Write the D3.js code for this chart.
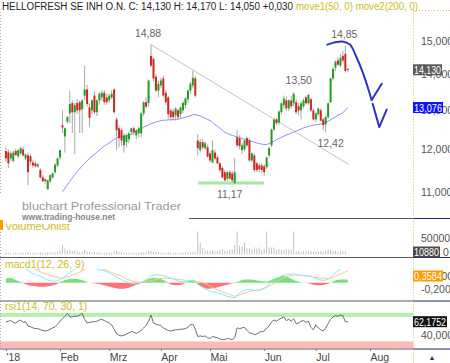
<!DOCTYPE html>
<html>
<head>
<meta charset="utf-8">
<script src="https://cdn.jsdelivr.net/npm/d3@7"></script>
<style>
body { margin: 0; background: #fff; }
svg { display: block; }
text { font-family: "Liberation Sans", Arial, sans-serif; }
</style>
</head>
<body>
<svg id="chart" width="450" height="363"></svg>
<script>
// ---- data ----
var titleText = "HELLOFRESH SE  INH O.N. C: 14,130 H: 14,170 L: 14,050 +0,030";
var studyText = "move1(50, 0) move2(200, 0)";
var monthLabels = ["'18", "Feb", "Mrz", "Apr", "Mai", "Jun", "Jul", "Aug"];
var holidays = ["2018-01-01", "2018-03-30", "2018-04-02", "2018-05-01"];
var priceTicks = [11, 12, 13, 14, 15];
var volTicks = [0, 500000];
var macdTicks = [-0.2, 0.2];
var rsiTicks = [40];

// [open, high, low, close]
var candles = [
[11.96,12.05,11.70,11.78],[11.93,12.00,11.55,11.66],[11.78,11.95,11.72,11.90],[11.72,11.98,11.68,11.92],[11.96,12.02,11.84,11.86],
[11.83,12.00,11.78,11.98],[11.90,12.08,11.85,12.03],[12.00,12.06,11.82,11.85],[11.78,11.90,11.74,11.87],[11.85,11.92,11.15,11.45],
[11.83,11.88,11.62,11.70],[11.68,11.75,11.55,11.61],[11.66,11.72,11.56,11.59],[11.59,11.67,11.55,11.63],[11.50,11.55,11.30,11.33],
[11.33,11.38,11.22,11.24],[11.28,11.32,11.18,11.24],[11.06,11.28,11.04,11.26],[11.24,11.40,11.20,11.38],[11.33,11.45,11.28,11.42],
[11.45,11.66,11.40,11.63],[11.61,11.80,11.57,11.78],[11.80,12.00,11.75,11.98],[12.61,13.00,12.41,12.55],[12.32,12.55,11.92,12.53],
[12.70,12.85,12.65,12.82],[12.92,13.54,12.67,13.17],[13.20,13.27,12.41,12.95],[12.95,13.20,11.89,13.14],[13.20,13.30,12.90,13.00],
[13.22,13.27,12.41,13.00],[13.03,13.30,12.41,13.27],[13.40,14.25,13.27,13.57],[13.57,13.70,13.10,13.17],[13.08,13.20,12.57,12.80],
[13.00,13.30,12.90,13.27],[13.40,13.50,12.90,12.95],[12.95,13.30,12.85,13.27],[13.27,13.50,13.15,13.45],[13.35,13.55,13.25,13.48],
[13.48,13.55,13.15,13.22],[13.35,13.45,13.15,13.22],[13.27,13.45,13.20,13.40],[13.35,13.55,13.30,13.45],[13.57,13.62,12.92,12.95],
[12.76,12.82,11.98,12.48],[12.53,12.60,12.05,12.28],[12.48,12.55,12.10,12.22],[12.10,12.40,11.92,12.35],[12.18,12.40,12.05,12.35],
[12.25,12.45,12.15,12.40],[12.43,12.55,12.35,12.53],[12.53,12.58,12.35,12.43],[12.35,12.50,12.25,12.48],[12.40,12.58,12.30,12.53],
[12.40,12.95,12.30,12.92],[12.92,13.25,12.85,13.22],[13.22,13.35,13.05,13.10],[13.20,13.85,13.10,13.82],[14.54,14.88,14.20,14.25],
[14.45,14.50,13.80,13.88],[13.93,14.00,13.50,13.54],[13.54,13.82,13.35,13.73],[13.68,13.90,13.60,13.82],[13.88,13.95,13.35,13.40],
[13.48,13.55,13.15,13.22],[13.35,13.40,12.76,12.90],[13.00,13.05,12.73,12.82],[12.97,13.05,12.73,12.82],[12.87,13.08,12.73,13.05],
[13.00,13.05,12.76,12.82],[12.90,13.10,12.80,13.08],[13.00,13.25,12.92,13.20],[13.14,13.35,13.05,13.32],[13.30,13.57,13.20,13.54],
[13.54,13.78,13.45,13.73],[13.68,14.10,13.60,13.90],[13.88,13.95,13.35,13.40],[12.22,12.38,11.85,12.03],[11.98,12.25,11.92,12.18],
[12.18,12.25,12.00,12.05],[12.03,12.20,11.98,12.15],[12.05,12.12,11.80,11.82],[11.90,11.95,11.68,11.73],[11.68,12.22,11.66,11.98],
[11.92,12.00,11.75,11.78],[11.80,11.85,11.64,11.66],[11.66,11.70,11.45,11.50],[11.55,11.60,11.30,11.33],[11.45,11.50,11.24,11.26],
[11.30,11.48,11.24,11.45],[11.45,11.50,11.28,11.30],[11.42,11.48,11.22,11.26],[11.20,11.78,11.17,11.45],[12.30,12.48,12.05,12.10],
[12.28,12.35,12.00,12.08],[11.98,12.15,11.88,12.10],[12.00,12.25,11.95,12.22],[12.28,12.32,12.05,12.10],[12.22,12.28,11.70,11.73],
[11.73,11.92,11.68,11.90],[11.85,11.90,11.45,11.50],[11.66,11.70,11.45,11.50],[11.61,11.66,11.45,11.52],[11.61,11.66,11.42,11.50],
[11.59,11.64,11.36,11.45],[11.57,11.82,11.52,11.80],[11.85,12.06,11.80,12.03],[12.10,12.52,12.05,12.50],[12.50,12.78,12.45,12.76],
[12.76,12.80,12.62,12.66],[12.68,13.00,12.62,12.97],[12.95,13.22,12.90,13.19],[13.14,13.40,13.05,13.32],[13.27,13.38,12.98,13.05],
[13.05,13.30,12.98,13.27],[13.27,13.40,13.05,13.11],[13.19,13.50,13.10,13.45],[13.22,13.30,12.90,12.95],[13.11,13.20,12.87,13.00],
[13.00,13.25,12.76,13.19],[13.11,13.32,13.05,13.27],[13.35,13.40,13.15,13.19],[13.19,13.45,13.15,13.42],[13.30,13.35,12.95,13.00],
[13.00,13.05,12.73,12.76],[12.76,12.95,12.70,12.92],[12.90,13.08,12.85,13.05],[13.00,13.05,12.70,12.73],[12.76,12.80,12.48,12.61],
[12.63,12.90,12.42,12.82],[12.82,13.22,12.78,13.19],[13.22,13.90,13.20,13.88],[13.88,14.20,13.82,14.16],[14.19,14.40,14.10,14.37],
[14.40,14.50,14.25,14.28],[14.25,14.60,14.20,14.48],[14.54,14.69,14.35,14.40],[14.60,14.85,14.05,14.10],[14.16,14.17,14.05,14.13]
];

var volumes = [
70000,60000,45000,40000,50000,35000,40000,55000,45000,90000,60000,50000,45000,40000,70000,55000,50000,80000,60000,55000,70000,90000,
130000,300000,180000,120000,150000,110000,130000,80000,70000,90000,140000,110000,90000,70000,80000,60000,70000,50000,60000,55000,
60000,50000,90000,110000,80000,70000,60000,55000,50000,45000,50000,45000,50000,80000,70000,60000,100000,110000,90000,80000,60000,
55000,60000,50000,70000,55000,45000,50000,45000,50000,55000,60000,70000,80000,90000,80000,
720000,380000,200000,120000,130000,110000,130000,100000,120000,140000,170000,110000,130000,150000,160000,
300000,720000,280000,240000,375000,180000,200000,150000,220000,190000,220000,140000,180000,720000,
220000,210000,220000,150000,170000,140000,130000,170000,140000,150000,720000,
100000,110000,90000,100000,110000,95000,100000,80000,90000,95000,110000,95000,120000,150000,160000,110000,120000,95000,90000,100000,90000,10880
];

// 50-day average, first value belongs to candle 23
var ma50Start = 23;
var ma50 = [
11.00,11.08,11.16,11.24,11.31,11.39,11.46,11.53,11.60,11.66,
11.72,11.78,11.83,11.88,11.93,11.98,12.03,12.08,12.12,12.16,
12.20,12.24,12.28,12.30,12.31,12.32,12.34,12.35,12.38,12.41,
12.45,12.49,12.52,12.56,12.59,12.62,12.65,12.67,12.69,12.71,
12.73,12.74,12.74,12.75,12.75,12.76,12.76,12.77,12.78,12.80,
12.82,12.84,12.86,12.88,12.89,12.87,12.85,12.82,12.79,12.76,
12.73,12.68,12.63,12.58,12.53,12.48,12.43,12.40,12.37,12.35,
12.33,12.31,12.29,12.27,12.25,12.23,12.22,12.20,12.18,12.16,
12.14,12.13,12.12,12.12,12.14,12.17,12.20,12.24,12.27,12.30,
12.33,12.36,12.38,12.41,12.43,12.46,12.48,12.51,12.54,12.56,
12.58,12.60,12.61,12.62,12.63,12.64,12.66,12.68,12.71,12.75,
12.79,12.83,12.87,12.90,12.94,13.00,13.076
];

var macdLine = [
0.62,0.60,0.58,0.56,0.54,0.53,0.51,0.48,0.43,0.36,
0.32,0.28,0.25,0.22,0.19,0.16,0.12,0.08,0.06,0.05,
0.05,0.06,0.09,0.15,0.20,0.25,0.30,0.36,0.40,0.44,
0.52,0.56,0.58,0.58,0.56,0.52,0.46,0.41,0.39,0.37,
0.35,0.33,0.30,0.26,0.22,0.17,0.13,0.09,0.06,0.03,
0.00,-0.02,-0.03,-0.04,-0.04,0.00,0.05,0.10,0.15,0.21,
0.23,0.24,0.24,0.23,0.22,0.20,0.17,0.14,0.11,0.08,
0.05,0.04,0.03,0.04,0.05,0.07,0.08,0.05,-0.05,-0.10,
-0.14,-0.18,-0.22,-0.26,-0.28,-0.29,-0.31,-0.33,-0.36,-0.39,
-0.41,-0.43,-0.45,-0.46,-0.38,-0.30,-0.26,-0.23,-0.21,-0.20,
-0.21,-0.23,-0.24,-0.23,-0.21,-0.18,-0.12,-0.04,0.03,0.08,
0.12,0.16,0.20,0.23,0.24,0.25,0.26,0.27,0.26,0.24,
0.23,0.22,0.21,0.21,0.20,0.16,0.13,0.10,0.08,0.07,
0.08,0.10,0.16,0.23,0.30,0.36,0.42,0.48,0.52,0.53
];

var signalLine = [
0.70,0.68,0.66,0.64,0.62,0.60,0.58,0.56,0.53,0.50,
0.47,0.44,0.40,0.36,0.33,0.30,0.27,0.25,0.23,0.20,
0.18,0.16,0.14,0.14,0.15,0.17,0.20,0.23,0.26,0.29,
0.32,0.36,0.40,0.44,0.47,0.49,0.50,0.49,0.47,0.42,
0.40,0.37,0.34,0.31,0.28,0.25,0.23,0.20,0.16,0.12,
0.08,0.06,0.04,0.03,0.02,0.02,0.03,0.04,0.05,0.07,
0.08,0.10,0.12,0.13,0.14,0.14,0.13,0.13,0.12,0.11,
0.10,0.09,0.08,0.07,0.07,0.06,0.06,0.05,0.04,0.02,
0.00,-0.03,-0.06,-0.10,-0.14,-0.18,-0.22,-0.25,-0.28,-0.31,
-0.33,-0.36,-0.39,-0.41,-0.40,-0.37,-0.34,-0.31,-0.29,-0.27,
-0.25,-0.24,-0.23,-0.21,-0.19,-0.16,-0.13,-0.10,-0.06,-0.02,
0.03,0.07,0.12,0.15,0.18,0.20,0.22,0.23,0.23,0.22,
0.22,0.21,0.20,0.19,0.18,0.17,0.16,0.15,0.14,0.14,
0.13,0.13,0.14,0.17,0.20,0.23,0.26,0.29,0.33,0.3584
];

var macdHist = [
0.12,0.14,0.15,0.12,0.08,0.05,0.02,-0.02,-0.05,-0.07,
-0.09,-0.10,-0.11,-0.12,-0.12,-0.12,-0.12,-0.11,-0.10,-0.08,
-0.06,-0.03,0.02,0.05,0.08,0.10,0.11,0.12,0.12,0.11,
0.10,0.08,0.05,0.02,0.00,-0.01,-0.02,-0.03,-0.04,-0.06,
-0.08,-0.10,-0.12,-0.14,-0.16,-0.17,-0.18,-0.18,-0.18,-0.17,
-0.15,-0.12,-0.09,-0.06,-0.03,0.00,0.04,0.08,0.11,0.14,
0.15,0.14,0.13,0.11,0.08,0.04,-0.02,-0.05,-0.07,-0.08,
-0.08,-0.07,-0.04,-0.01,0.03,0.06,0.07,0.03,-0.04,-0.09,
-0.14,-0.17,-0.18,-0.18,-0.17,-0.16,-0.14,-0.12,-0.10,-0.08,
-0.06,-0.04,-0.02,-0.01,0.02,0.05,0.08,0.09,0.10,0.10,
0.09,0.08,0.07,0.06,0.05,0.04,0.03,0.05,0.09,0.13,
0.16,0.18,0.20,0.20,0.19,0.16,0.12,0.08,0.05,0.03,
0.01,0.00,-0.01,-0.02,-0.04,-0.06,-0.07,-0.08,-0.08,-0.07,
-0.05,-0.03,0.00,0.04,0.07,0.09,0.10,0.10,0.10,0.09
];

var rsiLine = [
62,63,64,61,60,63,65,61,62,55,
54,52,51,51,49,48,47,48,50,52,
54,58,63,67,71,76,70,70,71,71,
73,76,66,60,61,62,62,63,65,66,
64,62,60,57,50,42,40,39,40,42,
44,46,45,43,45,48,52,56,63,73,
60,58,57,56,52,50,48,47,48,49,
49,50,50,51,53,57,58,50,38,39,
38,39,36,35,38,37,36,34,33,33,
35,34,33,36,52,51,52,53,48,44,
43,41,42,45,46,47,52,55,62,65,
63,66,68,70,64,66,63,67,59,60,
63,64,61,63,53,49,57,52,49,47,
52,59,66,70,72,71,73,72,62,62.1752
];
var rsiBands = { over: [70, 76.5], under: [19, 30] };

// high / low notes: [candle, price, label, side]
var priceNotes = [
[59, 14.88, "14,88", "above"],
[117, 13.50, "13,50", "above"],
[138, 14.85, "14,85", "above"],
[93, 11.17, "11,17", "below"],
[130, 12.42, "12,42", "below"]
];
// hand drawn lines, as [candle, price]
var trendLine = [[59, 14.88], [139.5, 11.63]];
var supportLine = [[78.2, 11.2], [104.9, 11.2]];
var sketchCurve = [[130.65,14.88],[134.5,14.96],[137.2,14.97],[139.9,14.88],[142.6,14.49],[145.3,14.01],[147.3,13.59],[148.7,13.28]];
var sketchTick = [[148.7,13.28],[152.8,13.73]];
var sketchV = [[149.1,13.18],[151.8,12.56],[154.8,13.02]];

// ---- layout ----
var plotRight = 413;
var svg = d3.select("#chart");
var de = d3.formatLocale({decimal: ",", thousands: ".", grouping: [3], currency: ["", ""], minus: "-"});
var f3 = de.format(".3f"), f4 = de.format(".4f");

// trading days of 2018, weekends and exchange holidays left out
function tradingDays(n) {
  var out = [], d = new Date(2018, 0, 1);
  while (out.length < n) {
    var wd = d.getDay();
    var key = d3.timeFormat("%Y-%m-%d")(d);
    if (wd !== 0 && wd !== 6 && holidays.indexOf(key) < 0) out.push(new Date(d));
    d.setDate(d.getDate() + 1);
  }
  return out;
}
var days = tradingDays(150);

var x = d3.scaleLinear().domain([0, 149]).range([5.9, 372.4]);
var yPrice = d3.scaleLog().domain([11, 15]).range([191.7, 40.7]);
var yVol = d3.scaleLinear().domain([0, 500000]).range([254.5, 238.5]);
var yMacd = d3.scaleLinear().domain([-0.2, 0.2]).range([289.3, 276.1]);
var yRsi = d3.scaleLinear().domain([40, 62.1752]).range([335.3, 321.7]);

var defs = svg.append("defs");
function clip(id, y0, y1) {
  defs.append("clipPath").attr("id", id).append("rect")
    .attr("x", 0).attr("y", y0).attr("width", plotRight).attr("height", y1 - y0);
}
clip("cMain", 12, 218);
clip("cVol", 228, 257);
clip("cMacd", 269, 300);
clip("cRsi", 302, 348.5);

// ---- price panel ----
var main = svg.append("g").attr("clip-path", "url(#cMain)");

main.append("path")
  .datum(trendLine)
  .attr("fill", "none").attr("stroke", "#c4c4c4").attr("stroke-width", 1)
  .attr("d", d3.line().x(d => x(d[0])).y(d => yPrice(d[1])));

main.append("path")
  .datum(supportLine)
  .attr("fill", "none").attr("stroke", "#a6e8a0").attr("stroke-width", 3)
  .attr("d", d3.line().x(d => x(d[0])).y(d => yPrice(d[1])));

var maLine = d3.line().x((d, i) => x(i + ma50Start)).y(d => yPrice(d));
main.append("path")
  .datum(ma50)
  .attr("fill", "none").attr("stroke", "#8c8cff").attr("stroke-width", 1)
  .attr("d", maLine);

main.selectAll("line.wick").data(candles).join("line")
  .attr("class", "wick")
  .attr("x1", (d, i) => x(i)).attr("x2", (d, i) => x(i))
  .attr("y1", d => yPrice(d[1])).attr("y2", d => yPrice(d[2]))
  .attr("stroke", "#a8a8a8").attr("stroke-width", 1);

main.selectAll("rect.body").data(candles).join("rect")
  .attr("class", "body")
  .attr("x", (d, i) => x(i) - 1).attr("width", 2)
  .attr("y", d => yPrice(Math.max(d[0], d[3])))
  .attr("height", d => Math.max(1, Math.abs(yPrice(d[0]) - yPrice(d[3]))))
  .attr("fill", d => d[3] >= d[0] ? "#1f9e1f" : "#d42323");

var sketch = svg.append("g").attr("fill", "none").attr("stroke", "#2b34c8")
  .attr("stroke-width", 2).attr("stroke-linecap", "round").attr("stroke-linejoin", "round");
sketch.append("path").datum(sketchCurve)
  .attr("d", d3.line().curve(d3.curveCatmullRom).x(d => x(d[0])).y(d => yPrice(d[1])));
sketch.append("path").datum(sketchTick)
  .attr("d", d3.line().x(d => x(d[0])).y(d => yPrice(d[1])));
sketch.append("path").datum(sketchV)
  .attr("d", d3.line().x(d => x(d[0])).y(d => yPrice(d[1])));

var noteNudge = {"14,88": -3, "13,50": 5, "14,85": -1, "11,17": -5, "12,42": 5};
svg.selectAll("text.note").data(priceNotes).join("text")
  .attr("class", "note")
  .attr("x", d => x(d[0]) + noteNudge[d[2]])
  .attr("y", d => d[3] === "above" ? yPrice(d[1]) - 8 : yPrice(d[1]) + 14)
  .attr("text-anchor", "middle")
  .attr("font-size", 10.5).attr("fill", "#666")
  .text(d => d[2]);

// ---- panel titles (volume title sits partly under the watermark) ----
var gold = "#cdbd1e";
svg.append("text").attr("x", 5).attr("y", 230).attr("font-size", 11).attr("fill", gold).text("VolumeOnlist");

// watermark
svg.append("rect").attr("x", 0).attr("y", 195).attr("width", 189).attr("height", 29).attr("fill", "#fff");
svg.append("text").attr("x", 22).attr("y", 209.5)
  .attr("font-family", "DejaVu Sans").attr("font-size", 11).attr("fill", "#9a9a9a")
  .attr("textLength", 159).attr("lengthAdjust", "spacingAndGlyphs")
  .text("bluchart Professional Trader");
svg.append("text").attr("x", 22).attr("y", 220)
  .attr("font-family", "DejaVu Sans").attr("font-size", 8.5).attr("font-weight", "bold").attr("fill", "#8a8a8a")
  .attr("textLength", 93).attr("lengthAdjust", "spacingAndGlyphs")
  .text("www.trading-house.net");

// ---- volume ----
svg.append("g").attr("clip-path", "url(#cVol)")
  .selectAll("line").data(volumes).join("line")
  .attr("x1", (d, i) => x(i)).attr("x2", (d, i) => x(i))
  .attr("y1", yVol(0)).attr("y2", d => yVol(d))
  .attr("stroke", "#c2c2c2").attr("stroke-width", 1);

// ---- macd ----
var macdG = svg.append("g").attr("clip-path", "url(#cMacd)");
macdG.append("path").datum(macdHist)
  .attr("fill", "#7be07b")
  .attr("d", d3.area().x((d, i) => x(i)).y0(yMacd(0)).y1(d => yMacd(Math.max(0, d))));
macdG.append("path").datum(macdHist)
  .attr("fill", "#ff7474")
  .attr("d", d3.area().x((d, i) => x(i)).y0(yMacd(0)).y1(d => yMacd(Math.min(0, d))));
macdG.append("path").datum(signalLine)
  .attr("fill", "none").attr("stroke", "#ffc48c").attr("stroke-width", 1)
  .attr("d", d3.line().x((d, i) => x(i)).y(d => yMacd(d)));
macdG.append("path").datum(macdLine)
  .attr("fill", "none").attr("stroke", "#7eeefc").attr("stroke-width", 1)
  .attr("d", d3.line().x((d, i) => x(i)).y(d => yMacd(d)));

// ---- rsi ----
var rsiG = svg.append("g").attr("clip-path", "url(#cRsi)");
rsiG.append("rect").attr("x", 0).attr("width", plotRight)
  .attr("y", yRsi(rsiBands.over[1])).attr("height", yRsi(rsiBands.over[0]) - yRsi(rsiBands.over[1]))
  .attr("fill", "#b2f2ae");
rsiG.append("rect").attr("x", 0).attr("width", plotRight)
  .attr("y", yRsi(rsiBands.under[1])).attr("height", yRsi(rsiBands.under[0]) - yRsi(rsiBands.under[1]))
  .attr("fill", "#ffb8b8");
rsiG.append("path").datum(rsiLine)
  .attr("fill", "none").attr("stroke", "#6e6e6e").attr("stroke-width", 1)
  .attr("d", d3.line().x((d, i) => x(i)).y(d => yRsi(d)));

// ---- titles ----
svg.append("text").attr("x", 2).attr("y", 10).attr("font-size", 10).attr("fill", "#222")
  .attr("textLength", 291).attr("lengthAdjust", "spacingAndGlyphs").text(titleText);
svg.append("text").attr("x", 296).attr("y", 10).attr("font-size", 10).attr("fill", gold)
  .attr("textLength", 122).attr("lengthAdjust", "spacingAndGlyphs").text(studyText);
svg.append("text").attr("x", 5).attr("y", 268).attr("font-size", 10.5).attr("fill", gold).text("macd1(12, 26, 9)");
svg.append("text").attr("x", 5).attr("y", 309.5).attr("font-size", 10.5).attr("fill", gold).text("rsi1(14, 70, 30, 1)");
svg.append("rect").attr("x", 0).attr("y", 220).attr("width", 3).attr("height", 10).attr("fill", "#ff9a00");

// ---- frame ----
svg.append("line").attr("x1", 0.5).attr("x2", 0.5).attr("y1", 12).attr("y2", 195)
  .attr("stroke", "#aaa").attr("stroke-dasharray", "1,2");
svg.append("line").attr("x1", 0.5).attr("x2", 0.5).attr("y1", 232).attr("y2", 349)
  .attr("stroke", "#aaa").attr("stroke-dasharray", "1,2");
[[189, 218.5], [0, 257.5], [0, 301], [0, 349]].forEach(function (s) {
  svg.append("line").attr("x1", s[0]).attr("x2", plotRight).attr("y1", s[1]).attr("y2", s[1])
    .attr("stroke", "#5a5a5a").attr("stroke-width", 1.2);
  svg.append("line").attr("x1", plotRight).attr("x2", 450).attr("y1", s[1]).attr("y2", s[1])
    .attr("stroke", "#1c2a78").attr("stroke-width", 1.2);
});
svg.append("line").attr("x1", plotRight + 0.5).attr("x2", plotRight + 0.5).attr("y1", 10.5).attr("y2", 363)
  .attr("stroke", "#f0b050").attr("stroke-dasharray", "1,2");
svg.append("line").attr("x1", plotRight).attr("x2", 450).attr("y1", 10.5).attr("y2", 10.5)
  .attr("stroke", "#f0b050").attr("stroke-dasharray", "1,2");

// ---- right axes ----
function rightAxis(scale, ticks, fmt) {
  var g = svg.append("g").attr("transform", "translate(" + plotRight + ",0)")
    .call(d3.axisRight(scale).tickValues(ticks).tickFormat(fmt).tickSize(0).tickPadding(8));
  g.select(".domain").remove();
  g.selectAll("text").attr("font-family", "Liberation Sans, Arial, sans-serif")
    .attr("font-size", 10.5).attr("fill", "#555");
  return g;
}
rightAxis(yPrice, priceTicks, f3);
var volAxis = rightAxis(yVol, volTicks, d3.format("d"));
volAxis.selectAll("text").filter(d => d === 0).attr("x", 30).attr("dy", "0.1em");
rightAxis(yMacd, macdTicks, f4);
rightAxis(yRsi, rsiTicks, f4);

function valueBox(yc, label, bg, w) {
  svg.append("rect").attr("x", plotRight).attr("y", yc - 5.5).attr("width", w).attr("height", 11).attr("fill", bg);
  svg.append("text").attr("x", plotRight + 1).attr("y", yc + 4).attr("font-size", 10.5).attr("fill", "#fff")
    .attr("textLength", w - 2).attr("lengthAdjust", "spacingAndGlyphs").text(label);
}
var last = candles[candles.length - 1];
valueBox(yPrice(last[3]), f3(last[3]), "#5a5a5a", 29);
valueBox(yPrice(ma50[ma50.length - 1]), f3(ma50[ma50.length - 1]), "#0a14ff", 30);
valueBox(Math.min(yVol(volumes[volumes.length - 1]), 252), String(volumes[volumes.length - 1]), "#4a4a4a", 27);
valueBox(276, f4(signalLine[signalLine.length - 1]), "#ff9a00", 30);
valueBox(yRsi(rsiLine[rsiLine.length - 1]), f4(rsiLine[rsiLine.length - 1]), "#111", 34);

// ---- time axis ----
var monthStarts = [];
days.forEach(function (d, i) {
  if (i === 0 || d.getMonth() !== days[i - 1].getMonth()) monthStarts.push(i);
});
var xAxis = svg.append("g").attr("transform", "translate(0,349)")
  .call(d3.axisBottom(x).tickValues(monthStarts).tickFormat((d, k) => monthLabels[k]).tickSize(2).tickPadding(2.5));
xAxis.select(".domain").remove();
xAxis.selectAll("line").attr("stroke", "#777");
xAxis.selectAll("text").attr("text-anchor", "start").attr("font-family", "Liberation Sans, Arial, sans-serif")
  .attr("font-size", 10.5).attr("fill", "#444");

svg.append("text").attr("x", 432).attr("y", 360).attr("text-anchor", "middle")
  .attr("font-size", 7).attr("fill", "#1c2a78").text("▲");
</script>
</body>
</html>
